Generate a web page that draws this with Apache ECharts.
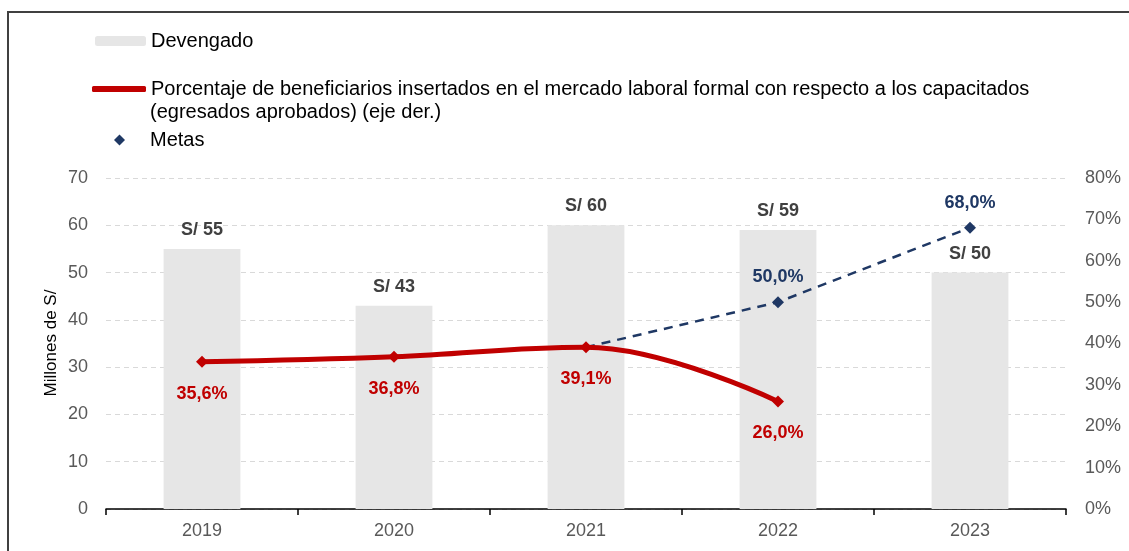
<!DOCTYPE html>
<html>
<head>
<meta charset="utf-8">
<script src="https://cdn.jsdelivr.net/npm/echarts@6/dist/echarts.min.js"></script>
<style>
html,body{margin:0;padding:0;background:#fff;}
#chart{width:1129px;height:551px;}
</style>
</head>
<body>
<div id="chart"></div>
<script>
var categories = ['2019', '2020', '2021', '2022', '2023'];
var devengado = [55, 43, 60, 59, 50];
var porcentaje = [35.6, 36.8, 39.1, 26.0, null];
var metas = [null, null, 39.1, 50.0, 68.0];
var leftTicks = {min: 0, max: 70, interval: 10};
var rightTicks = {min: 0, max: 80, interval: 10};

var FONT = '"Liberation Sans", Arial, sans-serif';
var nameBar = 'Devengado';
var nameLine = 'Porcentaje de beneficiarios insertados en el mercado laboral formal con respecto a los capacitados (egresados aprobados) (eje der.)';
var nameMetas = 'Metas';

function pct(v) { return v.toFixed(1).replace('.', ',') + '%'; }

var chart = echarts.init(document.getElementById('chart'));
var legendText = {fontSize: 20, color: '#000', fontFamily: FONT};
chart.setOption({
  animation: false,
  textStyle: {fontFamily: FONT},
  graphic: [
    {type: 'rect', shape: {x: 8, y: 12, width: 1200, height: 700}, style: {fill: 'none', stroke: '#404040', lineWidth: 2}, silent: true},
    {type: 'text', left: 150, top: 102, style: {text: '(egresados aprobados) (eje der.)', fontSize: 20, fill: '#000', fontFamily: FONT}},
    {type: 'text', x: 51, y: 343, rotation: Math.PI / 2,
     style: {text: 'Millones de S/', fontSize: 17, fill: '#000', fontFamily: FONT, align: 'center', verticalAlign: 'middle'}}
  ],
  legend: [
    {data: [nameBar], left: 95, top: 31, padding: 0, orient: 'vertical', itemWidth: 51, itemHeight: 10, textStyle: legendText},
    {data: [{name: nameLine, icon: 'roundRect'}], left: 92, top: 79, padding: 0, orient: 'vertical', itemWidth: 54, itemHeight: 6, textStyle: legendText,
     formatter: function () { return 'Porcentaje de beneficiarios insertados en el mercado laboral formal con respecto a los capacitados'; }},
    {data: [{name: nameMetas, icon: 'diamond'}], left: 114, top: 130, padding: 0, orient: 'vertical', itemWidth: 11, itemHeight: 11,
     textStyle: {fontSize: 20, color: '#000', fontFamily: FONT, padding: [0, 0, 0, 20]}}
  ],
  grid: {left: 106, right: 63, top: 178, bottom: 42},
  xAxis: {
    type: 'category',
    data: categories,
    axisLine: {lineStyle: {color: '#000', width: 1.5}},
    axisTick: {show: true, length: 6, lineStyle: {color: '#000', width: 1.5}},
    axisLabel: {color: '#595959', fontSize: 18, margin: 13, fontFamily: FONT}
  },
  yAxis: [
    {
      type: 'value', min: leftTicks.min, max: leftTicks.max, interval: leftTicks.interval,
      axisLabel: {color: '#595959', fontSize: 18, margin: 18, fontFamily: FONT},
      axisLine: {show: false}, axisTick: {show: false},
      splitLine: {lineStyle: {color: '#D9D9D9', type: [5, 4], width: 1}}
    },
    {
      type: 'value', min: rightTicks.min, max: rightTicks.max, interval: rightTicks.interval,
      axisLabel: {color: '#595959', fontSize: 18, margin: 19, formatter: '{value}%', fontFamily: FONT},
      axisLine: {show: false}, axisTick: {show: false}, splitLine: {show: false}
    }
  ],
  series: [
    {
      name: nameBar, type: 'bar', data: devengado, barWidth: '40%',
      itemStyle: {color: '#E6E6E6'},
      label: {show: true, position: 'top', distance: 10, color: '#404040', fontWeight: 'bold', fontSize: 18, fontFamily: FONT,
        formatter: function (p) { return 'S/ ' + p.value; }},
      z: 1
    },
    {
      name: nameMetas, type: 'line', yAxisIndex: 1, data: metas,
      symbol: 'diamond',
      symbolSize: function (v, p) { return p.dataIndex === 2 ? 0 : 12; },
      lineStyle: {color: '#1F3864', width: 2.5, type: [9, 7]},
      itemStyle: {color: '#1F3864'},
      label: {show: true, position: 'top', distance: 10, color: '#1F3864', fontWeight: 'bold', fontSize: 18, fontFamily: FONT,
        formatter: function (p) { return p.dataIndex === 2 ? '' : pct(p.value); }},
      z: 3
    },
    {
      name: nameLine, type: 'line', yAxisIndex: 1, data: porcentaje, smooth: 0.4,
      symbol: 'diamond', symbolSize: 12,
      lineStyle: {color: '#C00000', width: 5},
      itemStyle: {color: '#C00000'},
      label: {show: true, position: 'bottom', distance: 17, color: '#C00000', fontWeight: 'bold', fontSize: 18, fontFamily: FONT,
        formatter: function (p) { return pct(p.value); }},
      z: 4
    }
  ]
});
</script>
</body>
</html>
